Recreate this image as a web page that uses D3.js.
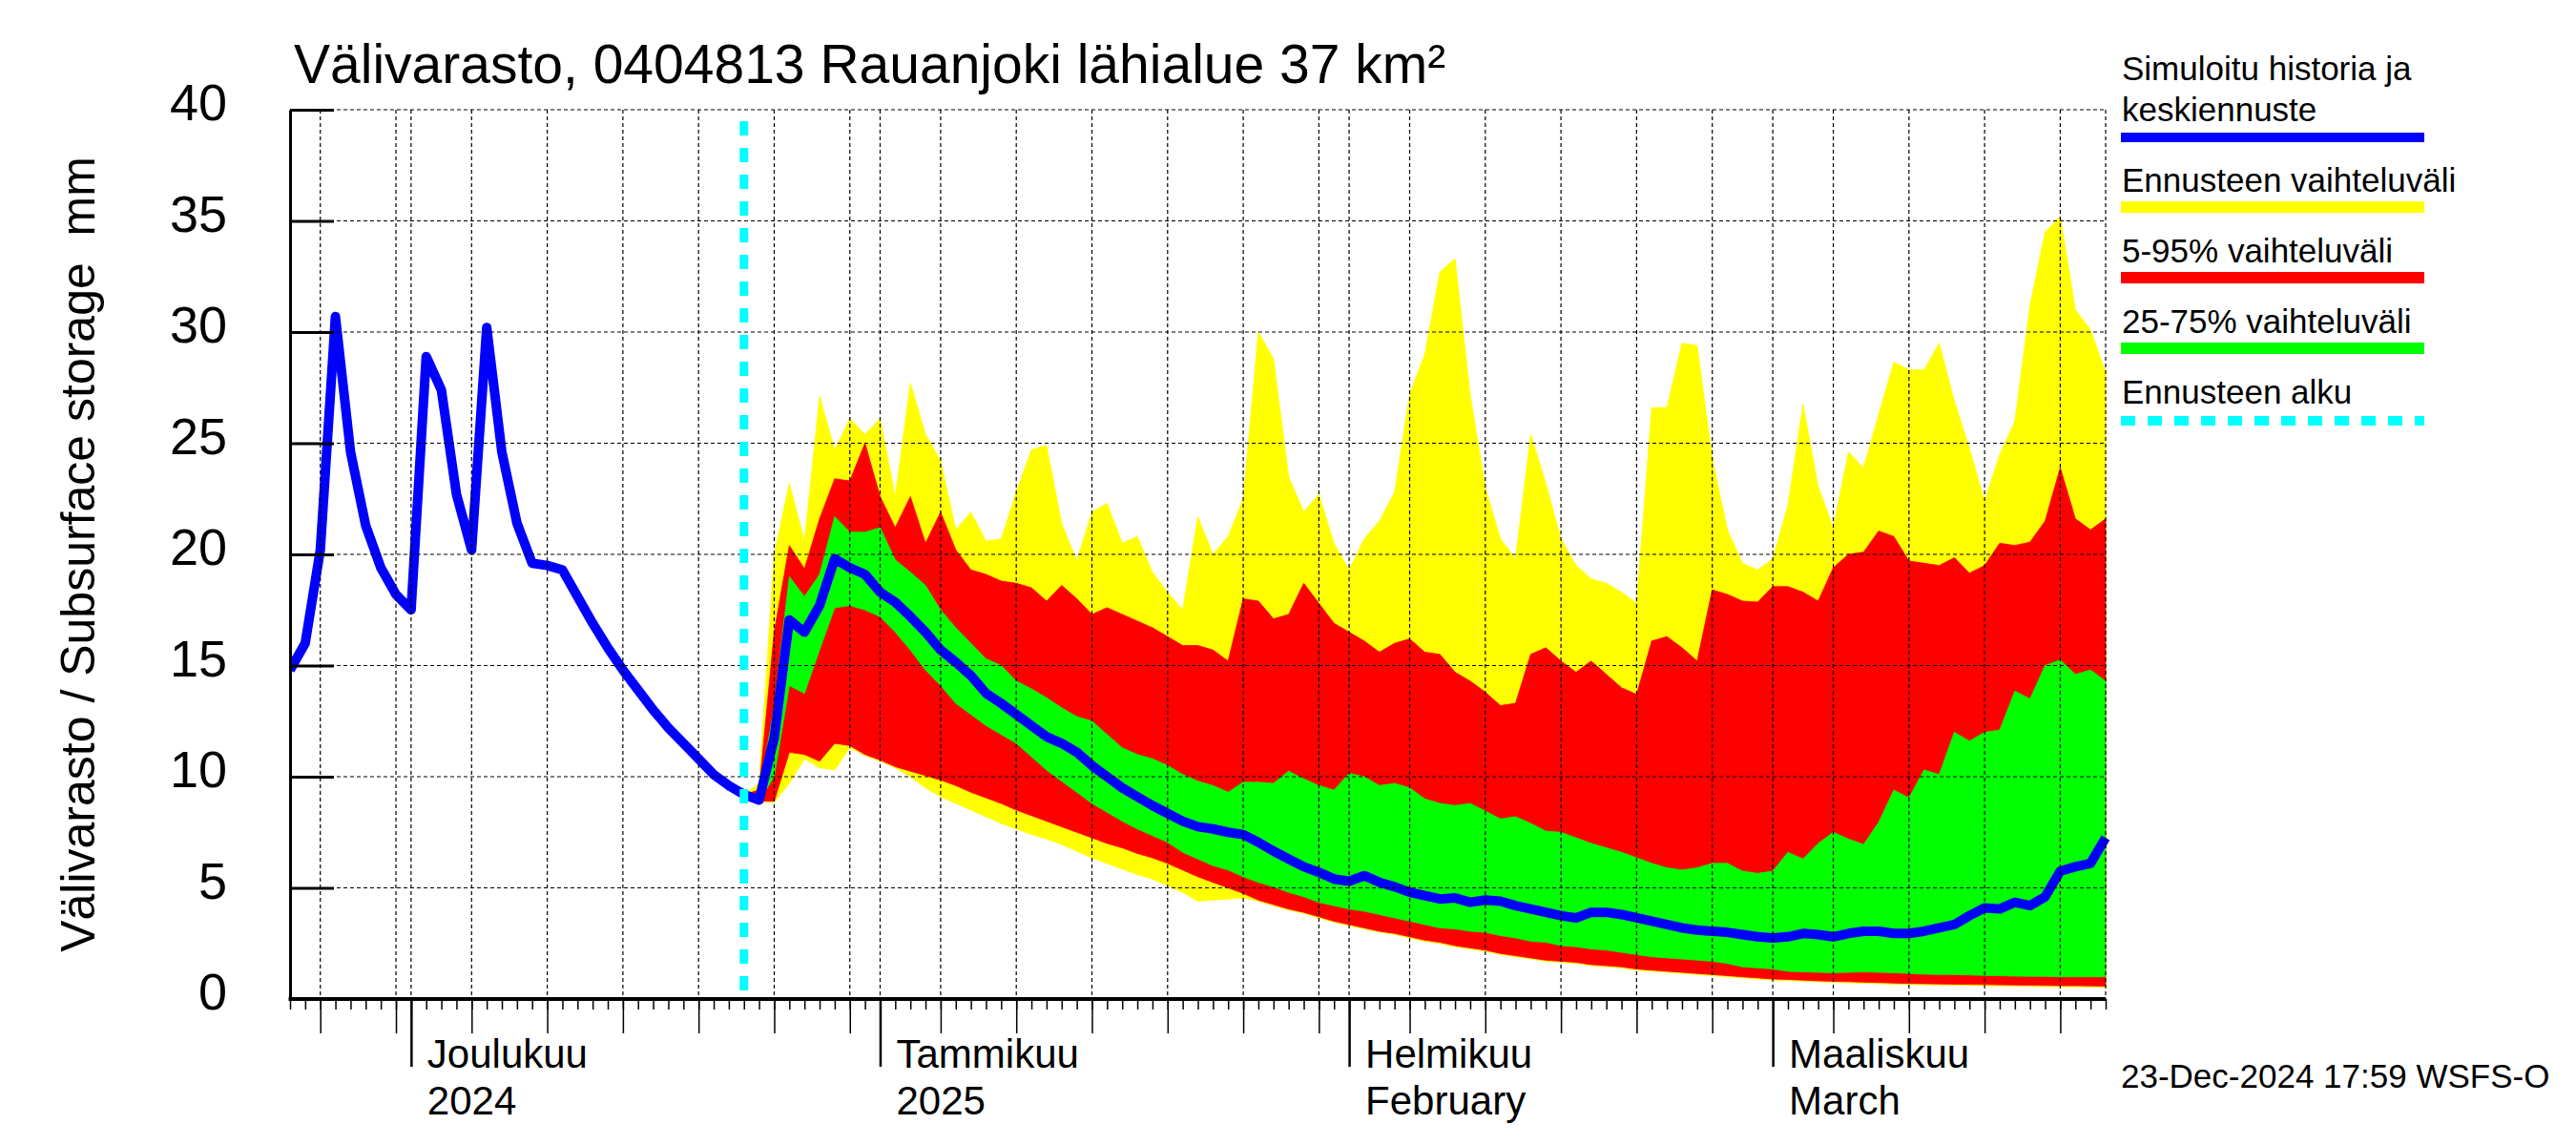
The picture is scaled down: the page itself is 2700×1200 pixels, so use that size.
<!DOCTYPE html>
<html><head><meta charset="utf-8">
<script src="https://cdn.jsdelivr.net/npm/d3@7"></script>
<style>
body{margin:0;background:#fff}
svg{display:block}
text{font-family:"Liberation Sans",Arial,Helvetica,sans-serif;fill:#000;white-space:pre}
</style>
</head><body>
<svg id="chart" width="2700" height="1200"></svg>
<script>
// ---------------- DATA ----------------
const titleText = "Välivarasto, 0404813 Rauanjoki lähialue 37 km²";
const yAxisTitle = "Välivarasto / Subsurface storage  mm";
const footerText = "23-Dec-2024 17:59 WSFS-O";
const domainStart = "2024-11-23";
const domainEnd = "2025-03-23";
const forecastStartDate = "2024-12-23";

const historyStart = "2024-11-23";
const historyValues = [14.8,16.0,20.2,30.7,24.6,21.3,19.4,18.2,
  17.5,28.9,27.4,22.7,20.2,30.2,24.6,21.4,19.6,19.5,19.3,18.1,16.9,15.8,14.8,13.9,13.0,12.2,11.5,10.8,10.1,9.6,9.2];

const forecastStart = "2024-12-23";
const fcMedian = [9.2,8.95,11.75,17.05,16.5,17.7,19.8,19.4,19.1,18.3,
  17.85,17.2,16.5,15.7,15.15,14.55,13.75,13.3,12.8,12.3,
  11.8,11.5,11.1,10.5,10.0,9.5,9.1,8.7,8.35,8.0,
  7.75,7.65,7.5,7.4,7.05,6.65,6.3,5.95,5.7,5.4,
  5.3,5.55,5.25,5.05,4.8,4.65,4.5,4.55,4.35,4.45,
  4.4,4.2,4.05,3.9,3.75,3.65,3.9,3.9,3.8,3.65,
  3.5,3.35,3.2,3.1,3.05,3.0,2.9,2.8,2.75,2.8,
  2.95,2.9,2.8,2.95,3.05,3.05,2.95,2.95,3.05,3.2,
  3.35,3.75,4.1,4.05,4.35,4.2,4.6,5.75,5.95,6.1,7.25];
const fcP75 = [9.2,9.1,13.2,19.0,18.1,19.1,21.7,21.0,21.0,21.2,
  19.75,19.2,18.6,17.5,16.7,16.0,15.3,15.0,14.3,13.95,
  13.55,13.1,12.7,12.5,11.9,11.3,11.0,10.8,10.5,10.1,
  9.8,9.6,9.3,9.75,9.75,9.7,10.25,9.9,9.6,9.4,
  10.15,10.0,9.6,9.7,9.5,9.0,8.8,8.7,8.8,8.45,
  8.1,8.2,7.9,7.55,7.5,7.25,7.0,6.8,6.6,6.35,
  6.1,5.9,5.8,5.9,6.1,6.1,5.75,5.65,5.75,6.6,
  6.3,7.0,7.5,7.2,6.95,7.95,9.4,9.05,10.3,10.1,
  12.0,11.6,12.0,12.1,13.85,13.5,15.0,15.25,14.6,14.8,14.3];
const fcP25 = [9.2,8.9,10.0,14.1,13.75,15.7,17.6,17.7,17.5,17.2,
  16.5,15.7,14.8,14.1,13.3,12.8,12.3,11.9,11.5,10.9,
  10.3,9.8,9.3,8.8,8.4,8.0,7.65,7.35,7.05,6.6,
  6.3,6.0,5.8,5.5,5.25,5.05,4.8,4.6,4.35,4.2,
  4.05,3.95,3.8,3.65,3.5,3.35,3.2,3.15,3.05,3.0,
  2.85,2.75,2.6,2.55,2.4,2.35,2.25,2.2,2.1,2.0,
  1.9,1.85,1.8,1.75,1.7,1.6,1.45,1.4,1.35,1.25,
  1.22,1.2,1.18,1.2,1.22,1.2,1.18,1.15,1.12,1.1,
  1.1,1.08,1.06,1.05,1.03,1.02,1.02,1.0,1.0,1.0,1.0];
const fcP95 = [9.2,9.4,16.5,20.4,19.35,21.6,23.4,23.3,25.0,22.6,
  21.2,22.6,20.5,21.9,20.2,19.3,19.1,18.8,18.7,18.5,
  17.9,18.6,18.0,17.3,17.6,17.3,17.0,16.7,16.3,15.9,
  15.9,15.7,15.2,18.0,17.9,17.1,17.3,18.7,17.8,16.9,
  16.5,16.1,15.6,16.0,16.2,15.6,15.5,14.7,14.3,13.8,
  13.2,13.3,15.5,15.8,15.2,14.7,15.2,14.6,14.0,13.7,
  16.1,16.3,15.8,15.2,18.4,18.2,17.9,17.85,18.55,18.55,
  18.3,17.9,19.4,20.0,20.1,21.05,20.8,19.7,19.6,19.5,
  19.85,19.15,19.5,20.5,20.4,20.55,21.5,23.9,21.6,21.1,21.6];
const fcP5 = [9.2,8.9,8.9,11.1,11.0,10.7,11.5,11.4,11.0,10.75,
  10.45,10.25,10.05,9.85,9.6,9.3,9.05,8.8,8.5,8.25,
  8.0,7.75,7.5,7.25,7.0,6.8,6.55,6.35,6.1,5.8,
  5.5,5.25,5.0,4.75,4.45,4.25,4.05,3.9,3.7,3.5,
  3.35,3.2,3.05,2.95,2.8,2.65,2.55,2.4,2.3,2.2,
  2.05,1.95,1.85,1.75,1.7,1.65,1.55,1.5,1.45,1.35,
  1.3,1.25,1.2,1.15,1.1,1.05,1.0,0.95,0.9,0.88,
  0.85,0.82,0.8,0.78,0.76,0.74,0.72,0.7,0.69,0.68,
  0.67,0.66,0.65,0.64,0.63,0.62,0.61,0.6,0.6,0.59,0.58];
const fcMax = [9.2,9.7,20.0,23.2,20.6,27.1,24.7,26.1,25.4,26.1,
  22.6,27.7,25.4,24.2,21.1,21.9,20.6,20.7,22.8,24.7,
  24.9,21.4,19.7,21.9,22.3,20.5,20.8,19.2,18.3,17.5,
  21.7,20.0,20.8,22.5,30.0,28.8,23.5,21.9,22.7,20.5,
  19.3,20.7,21.5,22.8,27.2,29.0,32.7,33.3,27.2,23.0,
  20.7,19.8,25.4,23.2,20.7,19.5,18.9,18.7,18.3,17.8,
  26.6,26.6,29.5,29.4,24.3,21.1,19.6,19.3,19.8,22.2,
  26.75,23.05,21.2,24.6,23.9,26.3,28.65,28.3,28.3,29.5,
  26.9,24.75,22.4,24.5,26.0,31.2,34.5,35.2,31.0,30.1,28.2];
const fcMin = [9.2,8.85,8.85,9.7,10.8,10.4,10.3,11.3,10.95,10.7,
  10.4,10.0,9.5,9.1,8.8,8.5,8.2,7.9,7.65,7.4,
  7.2,6.95,6.65,6.35,6.1,5.85,5.6,5.4,5.1,4.8,
  4.4,4.45,4.5,4.55,4.4,4.2,4.0,3.85,3.65,3.45,
  3.3,3.15,3.0,2.9,2.75,2.6,2.5,2.35,2.25,2.15,
  2.0,1.9,1.8,1.7,1.65,1.6,1.5,1.45,1.4,1.3,
  1.25,1.2,1.15,1.1,1.05,1.0,0.95,0.9,0.85,0.83,
  0.8,0.77,0.75,0.73,0.71,0.69,0.67,0.65,0.64,0.63,
  0.62,0.61,0.6,0.59,0.58,0.57,0.56,0.55,0.55,0.54,0.53];

const yTickValues = [0,5,10,15,20,25,30,35,40];
const monthLabels = [
  ["2024-12-01","Joulukuu","2024"],
  ["2025-01-01","Tammikuu","2025"],
  ["2025-02-01","Helmikuu","February"],
  ["2025-03-01","Maaliskuu","March"]];
const legendItems = [
  {lines:["Simuloitu historia ja","keskiennuste"], color:"#0000ff", kind:"line"},
  {lines:["Ennusteen vaihteluväli"], color:"#ffff00", kind:"band"},
  {lines:["5-95% vaihteluväli"], color:"#ff0000", kind:"band"},
  {lines:["25-75% vaihteluväli"], color:"#00ff00", kind:"band"},
  {lines:["Ennusteen alku"], color:"#00ffff", kind:"dash"}];

// ---------------- CHART ----------------
const parse = d3.utcParse("%Y-%m-%d");
const svg = d3.select("#chart");
svg.append("rect").attr("width",2700).attr("height",1200).attr("fill","#fff");

const L = 304, R = 2207, T = 115, B = 1047;
const x = d3.scaleUtc().domain([parse(domainStart), parse(domainEnd)]).range([L, R]);
const y = d3.scaleLinear().domain([0, 40]).range([B, T]);

const hist = historyValues.map((v,i)=>({date:d3.utcDay.offset(parse(historyStart), i), v}));
const fc = fcMedian.map((v,i)=>({date:d3.utcDay.offset(parse(forecastStart), i),
  med:v, p25:fcP25[i], p75:fcP75[i], p5:fcP5[i], p95:fcP95[i], min:fcMin[i], max:fcMax[i]}));

svg.append("defs").append("clipPath").attr("id","plot")
  .append("rect").attr("x",L).attr("y",T-2).attr("width",R-L+6).attr("height",B-T+2);
const plot = svg.append("g").attr("clip-path","url(#plot)");

function band(lo, hi, color){
  plot.append("path").datum(fc)
    .attr("d", d3.area().x(d=>x(d.date)).y0(d=>y(d[lo])).y1(d=>y(d[hi])))
    .attr("fill", color).attr("stroke", color).attr("stroke-width",0.8);
}
band("min","max","#ffff00");
band("p5","p95","#ff0000");
band("p25","p75","#00ff00");

// grid
const grid = svg.append("g").attr("stroke","#000").attr("stroke-width",1.2).attr("stroke-dasharray","4,3").attr("fill","none");
yTickValues.filter(v=>v>0).forEach(v=>{
  grid.append("line").attr("x1",L).attr("x2",R).attr("y1",y(v)).attr("y2",y(v));
});
const allDays = d3.utcDay.range(parse(domainStart), d3.utcDay.offset(parse(domainEnd),1));
const gridDays = allDays.filter(d=>[1,5,10,15,20,25,30].includes(d.getUTCDate()));
gridDays.forEach(d=>{
  grid.append("line").attr("x1",x(d)).attr("x2",x(d)).attr("y1",T).attr("y2",B);
});
grid.append("line").attr("x1",R).attr("x2",R).attr("y1",T).attr("y2",B);

// median line
const lineData = hist.map(d=>({date:d.date, v:d.v})).concat(fc.slice(1).map(d=>({date:d.date, v:d.med})));
plot.append("path").datum(lineData)
  .attr("d", d3.line().x(d=>x(d.date)).y(d=>y(d.v)))
  .attr("fill","none").attr("stroke","#0000ff").attr("stroke-width",10).attr("stroke-linejoin","round");

// forecast start
svg.append("line").attr("x1",x(parse(forecastStartDate))).attr("x2",x(parse(forecastStartDate)))
  .attr("y1",127).attr("y2",B).attr("stroke","#00ffff").attr("stroke-width",9).attr("stroke-dasharray","15,13");

// axes
const yAxis = d3.axisLeft(y).tickValues(yTickValues).tickSizeInner(-46).tickSizeOuter(0).tickPadding(66);
const gy = svg.append("g").attr("transform",`translate(${L},0)`).call(yAxis);
gy.select(".domain").attr("stroke","#000").attr("stroke-width",3);
gy.selectAll(".tick line").attr("stroke","#000").attr("stroke-width",3);
gy.selectAll(".tick text").attr("font-size",54).attr("dy","0.2em").attr("font-family","Liberation Sans, Arial, sans-serif");

const smallAxis = d3.axisBottom(x).tickValues(allDays).tickSize(11).tickFormat("");
const gx = svg.append("g").attr("transform",`translate(0,${B})`).call(smallAxis);
gx.selectAll(".tick line").attr("stroke","#000").attr("stroke-width",1.5);
gx.select(".domain").remove();
const medDays = allDays.filter(d=>[5,10,15,20,25,30].includes(d.getUTCDate()));
const gx2 = svg.append("g").attr("transform",`translate(0,${B})`).call(d3.axisBottom(x).tickValues(medDays).tickSize(36).tickFormat(""));
gx2.selectAll(".tick line").attr("stroke","#000").attr("stroke-width",1.5);
gx2.select(".domain").remove();
const monthDays = monthLabels.map(m=>parse(m[0]));
const gx3 = svg.append("g").attr("transform",`translate(0,${B})`).call(d3.axisBottom(x).tickValues(monthDays).tickSize(71).tickFormat(""));
gx3.selectAll(".tick line").attr("stroke","#000").attr("stroke-width",2.5);
gx3.select(".domain").remove();
svg.append("line").attr("x1",L-1.5).attr("x2",R).attr("y1",B).attr("y2",B).attr("stroke","#000").attr("stroke-width",4);

monthLabels.forEach(m=>{
  const xx = x(parse(m[0])) + 17;
  svg.append("text").attr("x",xx).attr("y",1119).attr("font-size",42).text(m[1]);
  svg.append("text").attr("x",xx).attr("y",1168).attr("font-size",42).text(m[2]);
});

// titles
svg.append("text").attr("x",308).attr("y",87).attr("font-size",57).text(titleText);
svg.append("text").attr("transform",`translate(99,${(T+B)/2}) rotate(-90)`).attr("text-anchor","middle")
  .attr("font-size",50).text(yAxisTitle);
svg.append("text").attr("x",2223).attr("y",1140).attr("font-size",35).text(footerText);

// legend
const lx = 2224, lw = 318;
let ly = 84;
legendItems.forEach(it=>{
  const t = svg.append("text").attr("x",lx).attr("y",ly).attr("font-size",35);
  it.lines.forEach((ln,k)=>{
    t.append("tspan").attr("x",lx).attr("dy",k===0?0:43).text(ln);
  });
  const by = ly + (it.lines.length-1)*43 + 10;
  if(it.kind==="dash"){
    svg.append("line").attr("x1",lx-1).attr("x2",lx-1+lw).attr("y1",by+8).attr("y2",by+8)
      .attr("stroke",it.color).attr("stroke-width",10).attr("stroke-dasharray","15,13");
  } else {
    svg.append("rect").attr("x",lx-1).attr("y",by + (it.kind==="line"?2:0)).attr("width",lw)
      .attr("height", it.kind==="line"?10:12).attr("fill",it.color);
  }
  ly = by + 64;
});
</script>
</body></html>
